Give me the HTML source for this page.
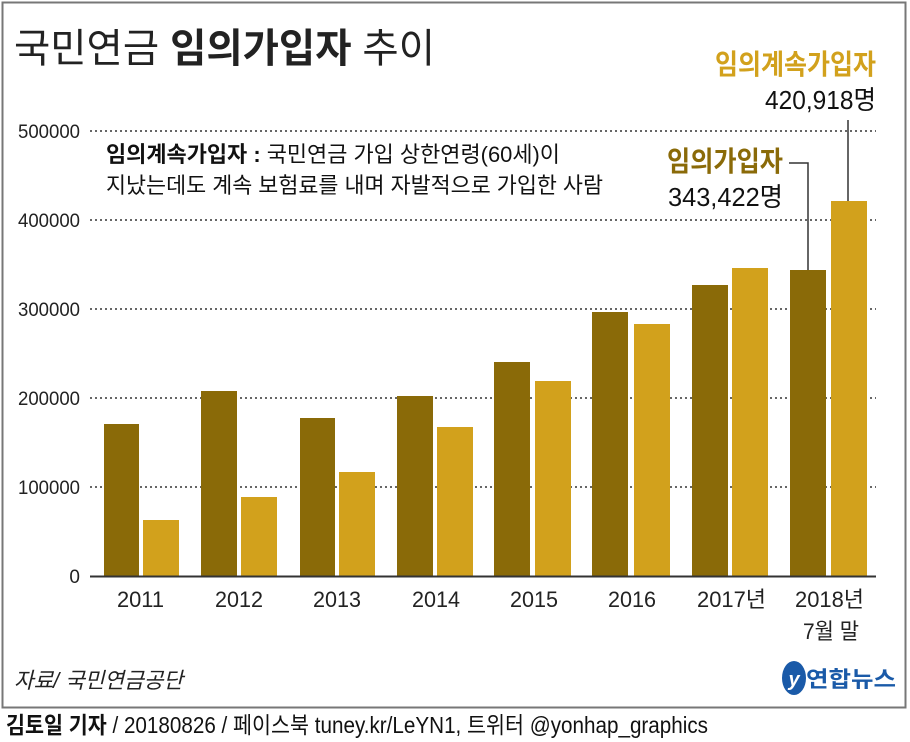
<!DOCTYPE html>
<html><head><meta charset="utf-8"><style>
body{margin:0;background:#fff;}
svg{display:block;font-family:"Liberation Sans","Noto Sans CJK KR",sans-serif;}
</style></head><body>
<svg width="910" height="742" viewBox="0 0 910 742">
<rect x="2.5" y="2.5" width="903" height="705" fill="#fff" stroke="#777" stroke-width="2"/>
<text x="14" y="62" font-size="40" fill="#222" textLength="421" lengthAdjust="spacingAndGlyphs">국민연금 <tspan font-weight="bold">임의가입자</tspan> 추이</text>
<g stroke="#666" stroke-width="2" stroke-dasharray="2,3">
<line x1="90" y1="131" x2="876" y2="131"/><line x1="90" y1="220" x2="876" y2="220"/>
<line x1="90" y1="309" x2="876" y2="309"/><line x1="90" y1="398" x2="876" y2="398"/>
<line x1="90" y1="487" x2="876" y2="487"/>
</g>
<g font-size="19" fill="#222" text-anchor="end">
<text x="80" y="138" textLength="62" lengthAdjust="spacingAndGlyphs">500000</text>
<text x="80" y="227" textLength="62" lengthAdjust="spacingAndGlyphs">400000</text>
<text x="80" y="316" textLength="62" lengthAdjust="spacingAndGlyphs">300000</text>
<text x="80" y="405" textLength="62" lengthAdjust="spacingAndGlyphs">200000</text>
<text x="80" y="494" textLength="62" lengthAdjust="spacingAndGlyphs">100000</text>
<text x="80" y="583">0</text>
</g>
<g fill="#8a6a08">
<rect x="104" y="424" width="35" height="152"/><rect x="201" y="391" width="36" height="185"/>
<rect x="300" y="418" width="35" height="158"/><rect x="397" y="396" width="36" height="180"/>
<rect x="494" y="362" width="36" height="214"/><rect x="592" y="312" width="36" height="264"/>
<rect x="692" y="285" width="36" height="291"/><rect x="790" y="270" width="36" height="306"/>
</g>
<g fill="#d2a11c">
<rect x="143" y="520" width="36" height="56"/><rect x="241" y="497" width="36" height="79"/>
<rect x="339" y="472" width="36" height="104"/><rect x="437" y="427" width="36" height="149"/>
<rect x="535" y="381" width="36" height="195"/><rect x="634" y="324" width="36" height="252"/>
<rect x="732" y="268" width="36" height="308"/><rect x="831" y="201" width="36" height="375"/>
</g>
<line x1="90" y1="576.5" x2="876" y2="576.5" stroke="#333" stroke-width="2"/>
<g font-size="22" fill="#222">
<text x="117" y="607" textLength="47" lengthAdjust="spacingAndGlyphs">2011</text>
<text x="215" y="607" textLength="48" lengthAdjust="spacingAndGlyphs">2012</text>
<text x="313" y="607" textLength="48" lengthAdjust="spacingAndGlyphs">2013</text>
<text x="412" y="607" textLength="48" lengthAdjust="spacingAndGlyphs">2014</text>
<text x="510" y="607" textLength="48" lengthAdjust="spacingAndGlyphs">2015</text>
<text x="608" y="607" textLength="48" lengthAdjust="spacingAndGlyphs">2016</text>
<text x="697" y="607" textLength="69" lengthAdjust="spacingAndGlyphs">2017년</text>
<text x="795" y="607" textLength="69" lengthAdjust="spacingAndGlyphs">2018년</text>
<text x="803" y="639" textLength="56" lengthAdjust="spacingAndGlyphs">7월 말</text>
</g>
<text x="106" y="162" font-size="22" fill="#111" textLength="454" lengthAdjust="spacingAndGlyphs"><tspan font-weight="bold">임의계속가입자 :</tspan> 국민연금 가입 상한연령(60세)이</text>
<text x="106" y="193" font-size="22" fill="#111" textLength="497" lengthAdjust="spacingAndGlyphs">지났는데도 계속 보험료를 내며 자발적으로 가입한 사람</text>
<text x="715" y="74" font-size="28" font-weight="bold" fill="#d2a11c" textLength="161" lengthAdjust="spacingAndGlyphs">임의계속가입자</text>
<text x="765" y="109" font-size="26" fill="#111" textLength="111" lengthAdjust="spacingAndGlyphs">420,918명</text>
<line x1="848" y1="120" x2="848" y2="201" stroke="#333" stroke-width="1.5"/>
<text x="667" y="171" font-size="28" font-weight="bold" fill="#8a6a08" textLength="116" lengthAdjust="spacingAndGlyphs">임의가입자</text>
<text x="668" y="206" font-size="26" fill="#111" textLength="115" lengthAdjust="spacingAndGlyphs">343,422명</text>
<polyline points="789,163 808,163 808,270" fill="none" stroke="#333" stroke-width="1.5"/>
<text x="14" y="688" font-size="22" font-style="italic" fill="#222" textLength="169" lengthAdjust="spacingAndGlyphs">자료/ 국민연금공단</text>
<ellipse cx="794" cy="678" rx="12" ry="17" fill="#1a5aa8"/>
<text x="794" y="686" font-size="20" font-style="italic" font-weight="bold" fill="#fff" text-anchor="middle">y</text>
<text x="806" y="687" font-size="22" font-weight="bold" fill="#1a5aa8" textLength="90" lengthAdjust="spacingAndGlyphs">연합뉴스</text>
<text x="6" y="733" font-size="23" fill="#111" textLength="702" lengthAdjust="spacingAndGlyphs"><tspan font-weight="bold">김토일 기자</tspan> / 20180826 / 페이스북 tuney.kr/LeYN1, 트위터 @yonhap_graphics</text>
</svg>
</body></html>
